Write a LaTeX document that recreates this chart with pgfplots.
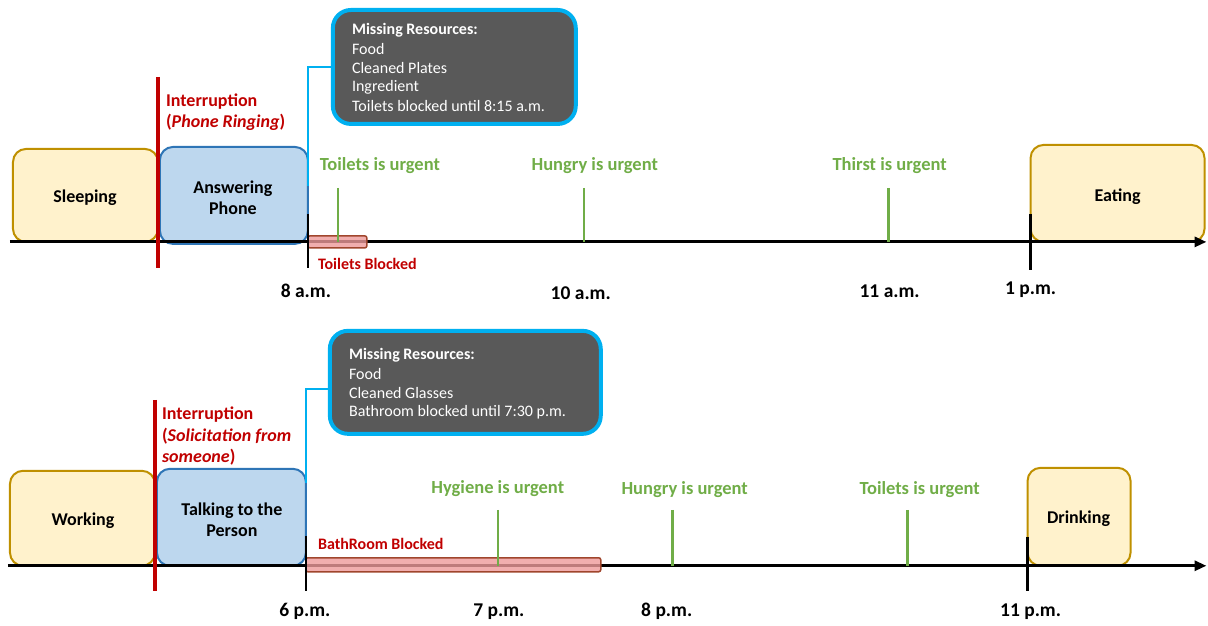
\documentclass[border=0pt]{standalone}
\usepackage{pgfplots}
\pgfplotsset{compat=1.18}
\usepackage{fontspec}
\setmainfont{Carlito}
\usetikzlibrary{arrows.meta}
\definecolor{yfill}{HTML}{FFF2CC}
\definecolor{ydraw}{HTML}{BF9000}
\definecolor{bfill}{HTML}{BDD7EE}
\definecolor{bdraw}{HTML}{2E75B6}
\definecolor{myred}{HTML}{C00000}
\definecolor{mygreen}{HTML}{70AD47}
\definecolor{cfill}{HTML}{595959}
\definecolor{cdraw}{HTML}{00B0F0}
\definecolor{pfill}{HTML}{EE9A9A}
\definecolor{pdraw}{HTML}{A0462D}
\begin{document}
\begin{tikzpicture}
\begin{axis}[width=1208pt,height=626pt,scale only axis,xmin=0,xmax=1208,ymin=0,ymax=626,
  y dir=reverse,hide axis,clip=false]
\addplot[draw=none] coordinates {(0,0)(1208,626)};
% ---------- top timeline ----------
\addplot[fill=yfill,draw=ydraw,line width=2pt,rounded corners=13pt] coordinates {(13,242)(13,149)(158,149)(158,242)} --cycle;
\addplot[fill=bfill,draw=bdraw,line width=2pt,rounded corners=13pt] coordinates {(160,244)(160,147)(308,147)(308,244)} --cycle;
\addplot[fill=yfill,draw=ydraw,line width=2pt,rounded corners=13pt] coordinates {(1031,242)(1031,145)(1205,145)(1205,242)} --cycle;
\addplot[cdraw,line width=2pt] coordinates {(308,186)(308,67)(333,67)};
\addplot[fill=cfill,draw=cdraw,line width=4pt,rounded corners=18pt] coordinates {(333,124)(333,10)(576,10)(576,124)} --cycle;
\addplot[-{Triangle[length=12pt,width=10pt]},line width=3pt] coordinates {(10,242)(1207,242)};
\addplot[fill=pfill,fill opacity=0.8,draw=pdraw,line width=1.5pt,rounded corners=2pt] coordinates {(308,248)(308,236)(367,236)(367,248)} --cycle;
\addplot[myred,line width=3.5pt] coordinates {(158,77)(158,268)};
\addplot[black,line width=2.5pt] coordinates {(308,214)(308,268)};
\addplot[black,line width=2.5pt] coordinates {(1031,214)(1031,270)};
\addplot[mygreen,line width=2.5pt] coordinates {(338,188)(338,242)};
\addplot[mygreen,line width=2.5pt] coordinates {(584,188)(584,242)};
\addplot[mygreen,line width=2.5pt] coordinates {(889,188)(889,242)};
% ---------- bottom timeline ----------
\addplot[fill=yfill,draw=ydraw,line width=2pt,rounded corners=13pt] coordinates {(10,566)(10,471)(155,471)(155,566)} --cycle;
\addplot[fill=bfill,draw=bdraw,line width=2pt,rounded corners=13pt] coordinates {(157,566)(157,469)(306,469)(306,566)} --cycle;
\addplot[fill=yfill,draw=ydraw,line width=2pt,rounded corners=13pt] coordinates {(1028,566)(1028,468)(1131,468)(1131,566)} --cycle;
\addplot[cdraw,line width=2pt] coordinates {(306,483)(306,389)(330,389)};
\addplot[fill=cfill,draw=cdraw,line width=4pt,rounded corners=18pt] coordinates {(330,434)(330,331)(601,331)(601,434)} --cycle;
\addplot[-{Triangle[length=12pt,width=10pt]},line width=3pt] coordinates {(8,566)(1207,566)};
\addplot[fill=pfill,fill opacity=0.8,draw=pdraw,line width=1.5pt,rounded corners=2pt] coordinates {(306,572)(306,558)(601,558)(601,572)} --cycle;
\addplot[myred,line width=3.5pt] coordinates {(155,400)(155,591)};
\addplot[black,line width=2.5pt] coordinates {(306,536)(306,591)};
\addplot[black,line width=2.5pt] coordinates {(1028,537)(1028,591)};
\addplot[mygreen,line width=2.5pt] coordinates {(498,510)(498,566)};
\addplot[mygreen,line width=2.5pt] coordinates {(673,510)(673,566)};
\addplot[mygreen,line width=2.5pt] coordinates {(908,510)(908,566)};
% ---------- texts ----------
\begin{scope}[every node/.style={font=\fontsize{18}{21}\selectfont\bfseries,inner sep=0pt,yshift=-1.5pt}]
\node at (axis cs:85,196) {Sleeping};
\node[align=center] at (axis cs:233,196) {Answering\\Phone};
\node at (axis cs:1118,195) {Eating};
\node[myred,anchor=west] at (axis cs:166,100) {Interruption};
\node[myred,anchor=west] at (axis cs:166,121) {(\textit{Phone Ringing})};
\node at (axis cs:83,519) {Working};
\node[align=center] at (axis cs:232,518) {Talking to the\\Person};
\node at (axis cs:1079,517) {Drinking};
\node[myred,anchor=west] at (axis cs:162,413) {Interruption};
\node[myred,anchor=west] at (axis cs:162,435) {(\textit{Solicitation from}};
\node[myred,anchor=west] at (axis cs:162,456) {\textit{someone})};
\end{scope}
\begin{scope}[every node/.style={font=\fontsize{18.5}{22}\selectfont\bfseries,inner sep=0pt,mygreen,yshift=-1.5pt}]
\node at (axis cs:380,164) {Toilets is urgent};
\node at (axis cs:595,164) {Hungry is urgent};
\node at (axis cs:890,164) {Thirst is urgent};
\node at (axis cs:498,487) {Hygiene is urgent};
\node at (axis cs:685,488) {Hungry is urgent};
\node at (axis cs:920,488) {Toilets is urgent};
\end{scope}
\begin{scope}[every node/.style={font=\fontsize{19.5}{23}\selectfont\bfseries,inner sep=0pt}]
\node at (axis cs:306,291) {8 a.m.};
\node at (axis cs:581,293) {10 a.m.};
\node at (axis cs:890,291) {11 a.m.};
\node at (axis cs:1031,290) {1 p.m.};
\node at (axis cs:305,612) {6 p.m.};
\node at (axis cs:499,612) {7 p.m.};
\node at (axis cs:667,612) {8 p.m.};
\node at (axis cs:1031,612) {11 p.m.};
\end{scope}
\begin{scope}[every node/.style={font=\fontsize{16}{19}\selectfont\bfseries,inner sep=0pt,myred,anchor=west}]
\node at (axis cs:318,264) {Toilets Blocked};
\node at (axis cs:318,544) {BathRoom Blocked};
\end{scope}
\begin{scope}[every node/.style={font=\fontsize{16}{19}\selectfont,inner sep=0pt,white,anchor=west,yshift=-1.5pt}]
\node at (axis cs:352,29) {\textbf{Missing Resources:}};
\node at (axis cs:352,48) {Food};
\node at (axis cs:352,67) {Cleaned Plates};
\node at (axis cs:352,86) {Ingredient};
\node at (axis cs:352,105) {Toilets blocked until 8:15 a.m.};
\node at (axis cs:349,354) {\textbf{Missing Resources:}};
\node at (axis cs:349,373) {Food};
\node at (axis cs:349,392) {Cleaned Glasses};
\node at (axis cs:349,411) {Bathroom blocked until 7:30 p.m.};
\end{scope}
\end{axis}
\end{tikzpicture}
\end{document}
